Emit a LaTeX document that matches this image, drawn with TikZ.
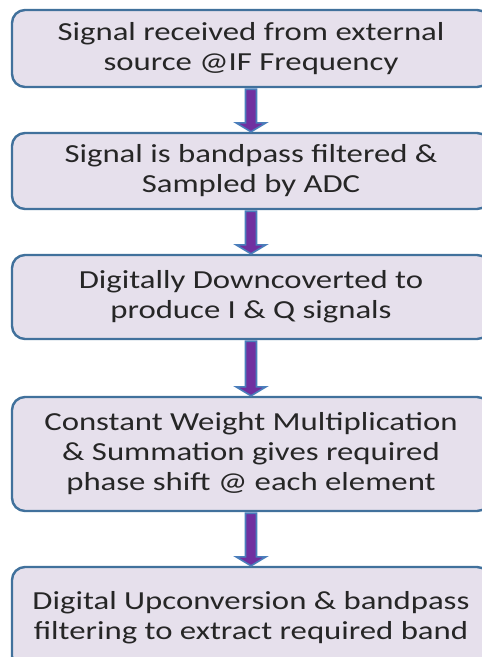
\documentclass[tikz,border=0pt]{standalone}
\usepackage{fontspec}
\setmainfont{Carlito}[FakeStretch=1.26]
\usetikzlibrary{calc}
\definecolor{boxfill}{HTML}{E6E0EC}
\definecolor{boxline}{HTML}{41719C}
\definecolor{arrfill}{HTML}{7030A0}
\definecolor{arrline}{HTML}{4A7EBB}
\begin{document}
\begin{tikzpicture}[x=1pt,y=-1pt,
  flowbox/.style={draw=boxline, fill=boxfill, line width=2.4pt, rounded corners=13pt,
    minimum width=478pt, align=center, inner sep=0pt, text=black!85,
    font=\fontsize{26}{30}\selectfont},
  flowarrow/.style={draw=arrline, fill=arrfill, line width=1.6pt, line join=miter}]
\useasboundingbox (0,0) rectangle (482,657);
\clip (0,0) rectangle (482,657);
\fill[white] (0,0) rectangle (482,657);
\node[flowbox, minimum height=77pt] (b1) at (251,48.5) {Signal received from external\\source @IF Frequency};
\node[flowbox, minimum height=76pt] (b2) at (251,171) {Signal is bandpass filtered \&\\Sampled by ADC};
\node[flowbox, minimum height=84pt] (b3) at (251,297) {Digitally Downcoverted to\\produce I \& Q signals};
\node[flowbox, minimum height=114pt] (b4) at (251,454) {Constant Weight Multiplication\\\& Summation gives required\\phase shift @ each element};
\node[flowbox, minimum height=102pt] (b5) at (251,618) {Digital Upconversion \& bandpass\\filtering to extract required band};
\foreach \a/\b in {b1/b2,b2/b3,b3/b4,b4/b5}{
  \draw[flowarrow] ($(\a.south)+(-5.5,1)$) -- ($(\b.north)+(-5.5,-9)$) -- ($(\b.north)+(-15,-9)$)
    -- ($(\b.north)+(0,0)$) -- ($(\b.north)+(15,-9)$) -- ($(\b.north)+(5.5,-9)$)
    -- ($(\a.south)+(5.5,1)$) -- cycle;
}
\end{tikzpicture}
\end{document}
